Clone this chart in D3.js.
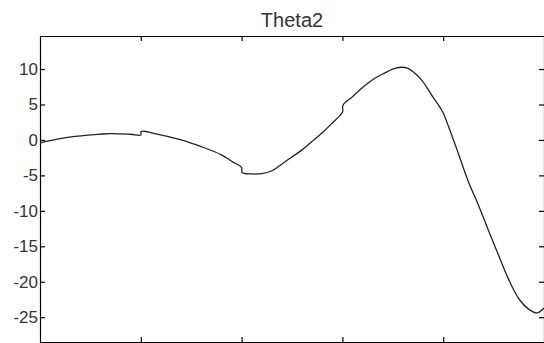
<!DOCTYPE html>
<html>
<head>
<meta charset="utf-8">
<script src="https://cdn.jsdelivr.net/npm/d3@7"></script>
<style>
  body { margin: 0; background: #fff; }
  svg { display: block; }
  text { font-family: "Liberation Sans", Arial, sans-serif; fill: #333; }
</style>
</head>
<body>
<div id="graph"></div>
<script>
// curve samples (x in axis units 0..5, y in degrees)
let xs = [0, 0.2, 0.5, 0.7, 0.9, 1.0, 1.003, 1.15, 1.4, 1.6, 1.8, 1.9, 2.0, 2.005, 2.1, 2.2, 2.3, 2.4, 2.5,
          2.6, 2.7, 2.8, 2.9, 3.0, 3.006, 3.1, 3.2, 3.3, 3.4, 3.5, 3.58, 3.65, 3.72, 3.8, 3.9, 3.95, 4.0,
          4.05, 4.15, 4.25, 4.35, 4.45, 4.55, 4.65, 4.75, 4.85, 4.93, 5.0];
let theta2 = [-0.4, 0.2, 0.7, 0.9, 0.8, 0.7, 1.2, 0.85, 0.0, -0.95, -2.1, -3.0, -3.9, -4.6, -4.8, -4.75, -4.35, -3.4, -2.4,
              -1.4, -0.2, 1.0, 2.4, 3.9, 4.9, 6.1, 7.4, 8.5, 9.3, 10.0, 10.25, 10.1, 9.4, 8.2, 6.0, 5.0, 3.8,
              2.0, -1.9, -5.9, -9.2, -12.8, -16.3, -19.7, -22.4, -23.9, -24.4, -23.7];
let yTicks = [10, 5, 0, -5, -10, -15, -20, -25];
let xTicks = [1, 2, 3, 4];
let xRange = [0, 5];
let yRange = [-28.5, 14.66];

let width = 544, height = 343;
let margin = {top: 36, right: 0, bottom: 1, left: 40};
let w = width - margin.left - margin.right;
let h = height - margin.top - margin.bottom;

let svg = d3.select('#graph')
    .append("svg")
    .attr("width", width)
    .attr("height", height)
    .append("g")
    .attr("transform", `translate(${margin.left}, ${margin.top})`);

let x = d3.scaleLinear().domain(xRange).range([0, w]);
let y = d3.scaleLinear().domain(yRange).range([h, 0]);

let fmt = d => String(d); // plain hyphen like the original

// ticks inside the box on all four sides
function styleAxis(g) {
    g.select(".domain").attr("stroke", "#000").attr("stroke-width", 1.2);
    g.selectAll(".tick line").attr("stroke", "#000").attr("stroke-width", 1.2);
    g.selectAll("text").style("font-size", "17px").attr("fill", "#333");
}

svg.append("g")
    .call(d3.axisLeft(y).tickValues(yTicks).tickSize(-5).tickPadding(2).tickFormat(fmt).tickSizeOuter(0))
    .call(styleAxis);

svg.append("g")
    .attr("transform", `translate(${w},0)`)
    .call(d3.axisRight(y).tickValues(yTicks).tickSize(-5).tickFormat("").tickSizeOuter(0))
    .call(styleAxis);

svg.append("g")
    .call(d3.axisTop(x).tickValues(xTicks).tickSize(-5).tickFormat("").tickSizeOuter(0))
    .call(styleAxis);

svg.append("g")
    .attr("transform", `translate(0,${h})`)
    .call(d3.axisBottom(x).tickValues(xTicks).tickSize(-5).tickFormat("").tickSizeOuter(0))
    .call(styleAxis);

let data = xs.map((d, i) => ({x: d, y: theta2[i]}));

svg.append("path")
    .datum(data)
    .attr("fill", "none")
    .attr("stroke", "#222")
    .attr("stroke-width", 1.3)
    .attr("d", d3.line()
        .x(d => x(d.x))
        .y(d => y(d.y))
        .curve(d3.curveCatmullRom.alpha(0.5)));

svg.append("text")
    .attr("x", w / 2)
    .attr("y", -9)
    .style("text-anchor", "middle")
    .style("font-size", "20px")
    .text("Theta2");
</script>
</body>
</html>
